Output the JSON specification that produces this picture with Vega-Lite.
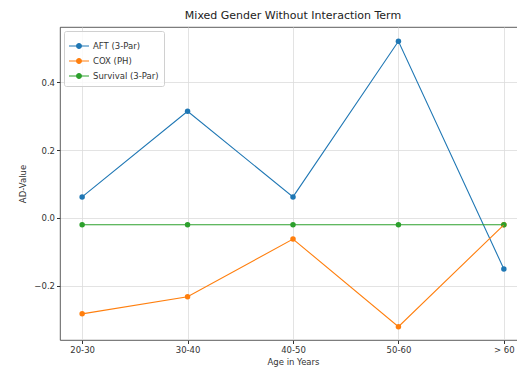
{
  "$schema": "https://vega.github.io/schema/vega-lite/v6.json",
  "width": 466,
  "height": 313,
  "autosize": {"type": "none"},
  "padding": {"left": 60, "top": 27, "right": 0, "bottom": 36},
  "background": "white",
  "title": {"text": "Mixed Gender Without Interaction Term", "font": "DejaVu Sans", "fontSize": 11, "fontWeight": "normal", "color": "#222", "offset": 6},
  "config": {
    "font": "DejaVu Sans",
    "view": {"stroke": "#333", "strokeWidth": 0.8},
    "axis": {"labelFont": "DejaVu Sans", "labelFontSize": 8.5, "labelColor": "#333", "titleFont": "DejaVu Sans", "titleFontSize": 8.5, "titleFontWeight": "normal", "titleColor": "#333", "gridColor": "#dcdcdc", "gridWidth": 0.8, "domain": false, "tickColor": "#333", "tickSize": 3.5}
  },
  "data": {"values": [
    {"age": "20-30", "model": "AFT (3-Par)", "v": 0.062},
    {"age": "30-40", "model": "AFT (3-Par)", "v": 0.314},
    {"age": "40-50", "model": "AFT (3-Par)", "v": 0.062},
    {"age": "50-60", "model": "AFT (3-Par)", "v": 0.52},
    {"age": "> 60", "model": "AFT (3-Par)", "v": -0.15},
    {"age": "20-30", "model": "COX (PH)", "v": -0.282},
    {"age": "30-40", "model": "COX (PH)", "v": -0.232},
    {"age": "40-50", "model": "COX (PH)", "v": -0.062},
    {"age": "50-60", "model": "COX (PH)", "v": -0.32},
    {"age": "> 60", "model": "COX (PH)", "v": -0.02},
    {"age": "20-30", "model": "Survival (3-Par)", "v": -0.02},
    {"age": "30-40", "model": "Survival (3-Par)", "v": -0.02},
    {"age": "40-50", "model": "Survival (3-Par)", "v": -0.02},
    {"age": "50-60", "model": "Survival (3-Par)", "v": -0.02},
    {"age": "> 60", "model": "Survival (3-Par)", "v": -0.02}
  ]},
  "encoding": {
    "x": {"field": "age", "type": "ordinal", "sort": null, "scale": {"type": "point", "padding": 0.21}, "axis": {"title": "Age in Years", "labelAngle": 0, "grid": true, "titlePadding": 3}},
    "y": {"field": "v", "type": "quantitative", "scale": {"domain": [-0.359, 0.562], "nice": false, "zero": false}, "axis": {"title": "AD-Value", "values": [-0.2, 0, 0.2, 0.4], "format": ".1f", "grid": true, "titlePadding": 6}},
    "color": {"field": "model", "type": "nominal", "scale": {"domain": ["AFT (3-Par)", "COX (PH)", "Survival (3-Par)"], "range": ["#1f77b4", "#ff7f0e", "#2ca02c"]},
      "legend": {"title": null, "orient": "top-left", "offset": 4, "labelFontSize": 8.5, "labelColor": "#333", "symbolType": "M-1,-0.05H1V0.05H-1ZM0.3,0A0.3,0.3 0 1,1 -0.3,0A0.3,0.3 0 1,1 0.3,0Z", "symbolSize": 400, "symbolStrokeWidth": 0, "symbolOpacity": 1, "rowPadding": 0, "strokeColor": "#d0d0d0", "fillColor": "rgba(255,255,255,0.8)", "padding": 5, "cornerRadius": 2}}
  },
  "layer": [
    {"mark": {"type": "point", "filled": true, "opacity": 1, "size": 30}},
    {"mark": {"type": "line", "strokeWidth": 1.1}}
  ]
}
